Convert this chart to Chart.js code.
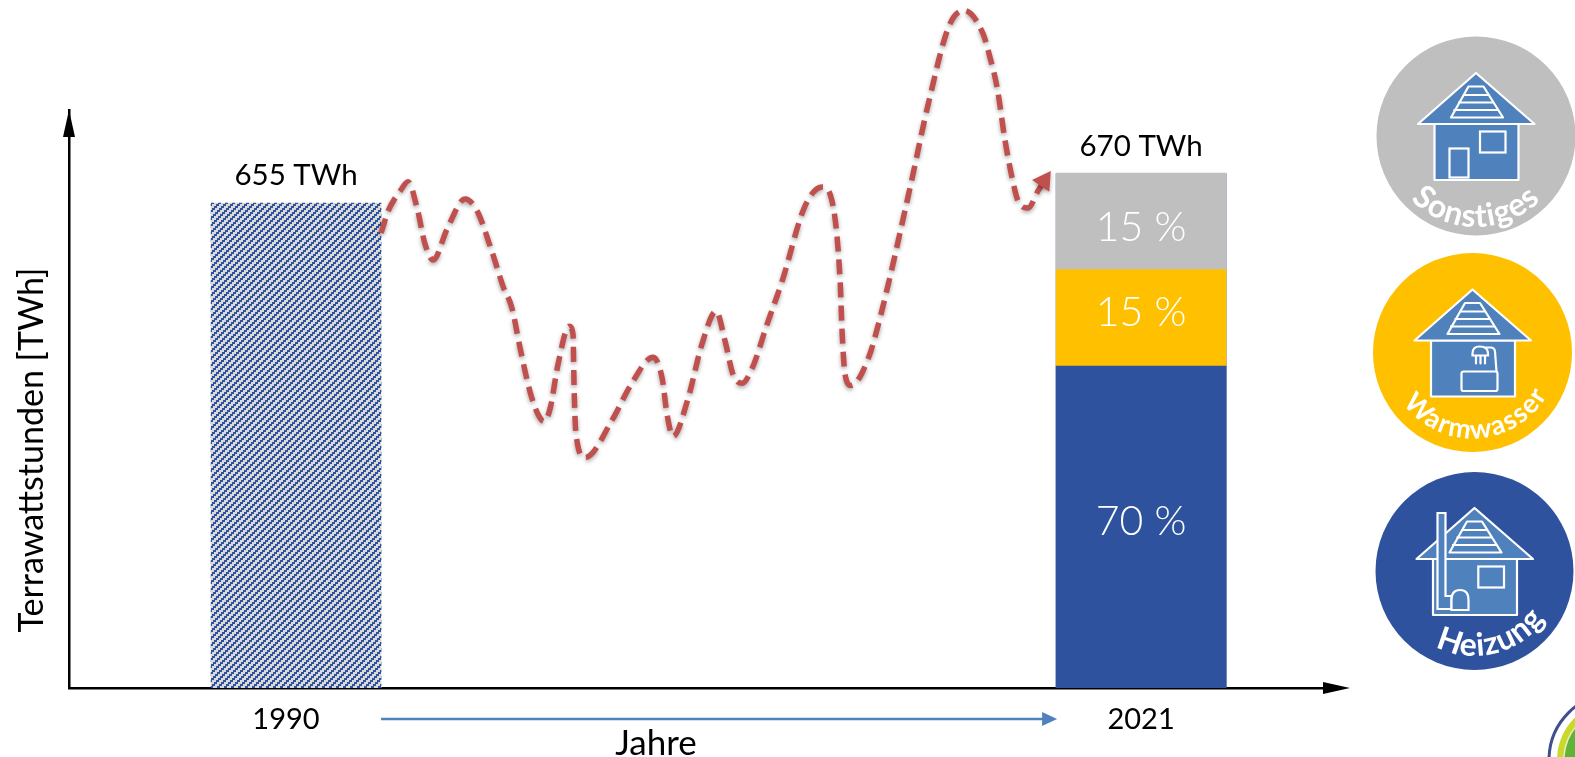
<!DOCTYPE html>
<html lang="de">
<head>
<meta charset="utf-8">
<title>Terrawattstunden 1990 und 2021</title>
<script src="https://cdn.jsdelivr.net/npm/chart.js@4"></script>
<style>
  html, body { margin: 0; padding: 0; background: #fff; overflow: hidden; }
  #stage { position: relative; width: 1575px; height: 757px; }
  #chart { position: absolute; left: 0; top: 0; }
  #badges { position: absolute; left: 0; top: 0; pointer-events: none; }
  #badges text { font-family: Lato, sans-serif; font-weight: 700; fill: #fff; }
</style>
</head>
<body>
<div id="stage">
  <canvas id="chart" width="1575" height="757"></canvas>
  <svg id="badges" width="1575" height="757" viewBox="0 0 1575 757">
    <defs>
      <g id="house" fill="#4f81bd" stroke="#fff" stroke-width="2.2" stroke-linejoin="round">
        <rect x="-41.5" y="-12" width="84" height="56"/>
        <path d="M0-63 58.5-12H-58Z"/>
        <path d="M-7.5-49.5H7.5L27-18.5H-25Z" fill="#4f81bd"/>
        <path d="M-13-41H13M-18-33.5H18M-22.5-26H22.5" fill="none"/>
      </g>
      <path id="arcS" d="M-91 0A91 91 0 0 0 91 0"/>
      <path id="arcW" d="M-86 0A86 86 0 0 0 86 0"/>
      <path id="arcH" d="M-85 0A85 85 0 0 0 85 0"/>
    </defs>

    <g transform="translate(1476 136)">
      <circle r="99.5" fill="#bfbfbf"/>
      <use href="#house"/>
      <g fill="#4f81bd" stroke="#fff" stroke-width="2.2">
        <rect x="4" y="-4.5" width="25.5" height="21"/>
        <rect x="-26.5" y="12.5" width="19" height="29"/>
      </g>
      <text font-size="32" letter-spacing="1" text-anchor="middle"><textPath href="#arcS" startOffset="50%">Sonstiges</textPath></text>
    </g>

    <g transform="translate(1472.5 352.5)">
      <circle r="99.5" fill="#ffc000"/>
      <use href="#house"/>
      <g fill="none" stroke="#fff" stroke-width="2.2" stroke-linecap="round">
        <rect x="-11" y="19" width="36" height="19.5" rx="2"/>
        <path d="M24 19 22.5-1Q22-5 18-5H13"/>
        <path d="M0 3V1Q0-6 7-6 15.5-6 15.5 1V3ZM3.5 4V11M8 4V11M12.5 4V11"/>
      </g>
      <text font-size="27" letter-spacing="1.6" text-anchor="middle"><textPath href="#arcW" startOffset="52%">Warmwasser</textPath></text>
    </g>

    <g transform="translate(1474.5 571)">
      <circle r="99" fill="#2f529e"/>
      <use href="#house"/>
      <g fill="#4f81bd" stroke="#fff" stroke-width="2.2">
        <rect x="3.8" y="-4.5" width="25.7" height="21"/>
        <path d="M-37-58H-29V25H-23V38H-37Z"/>
        <path d="M-23 39V29Q-23 19-14.5 19-6 19-6 29V39Z"/>
      </g>
      <text font-size="32" letter-spacing="1" text-anchor="middle"><textPath href="#arcH" startOffset="58%">Heizung</textPath></text>
    </g>

    <circle cx="1616" cy="760" r="67" fill="none" stroke="#3f4f8f" stroke-width="3"/>
    <circle cx="1616" cy="760" r="59" fill="#c8d92b"/>
    <circle cx="1616" cy="760" r="53" fill="#e8f0c0"/>
    <circle cx="1616" cy="760" r="51.5" fill="#5fb336"/>
  </svg>
</div>

<script>
// Total consumption per year, in terawatt hours
const years = [1990, 2021];
const totalsTWh = [655, 670];

// Where the year captions sit along the time axis
const yearTickPositions = [1989.63, 2021];

// Share of each use in 2021, in percent, stacked from the bottom up
const heatingShare = [null, 70];
const hotWaterShare = [null, 15];
const otherShare = [null, 15];
const shareLabels = ['70 %', '15 %', '15 %'];

// Course of consumption between the two bars
const trendYears = [1993.12, 1993.38, 1993.82, 1994.11, 1994.44, 1994.73, 1995.03, 1995.54, 1996.20, 1996.64,
  1997.19, 1997.59, 1997.92, 1998.22, 1998.58, 1998.88, 1999.10, 1999.32, 1999.61, 2000.02,
  2000.16, 2000.20, 2000.27, 2000.60, 2001.63, 2002.25, 2003.10, 2003.43, 2003.61, 2003.83,
  2004.38, 2004.89, 2005.41, 2005.74, 2006.03, 2006.36, 2006.73, 2007.28, 2007.83, 2008.67,
  2009.30, 2009.70, 2009.96, 2010.03, 2010.14, 2010.36, 2010.98, 2011.42, 2012.49, 2013.22,
  2013.96, 2014.51, 2015.20, 2015.46, 2015.72, 2016.01, 2016.27, 2016.49, 2016.85, 2017.22, 2017.44];
const trendTWh = [639.5, 650.9, 661.2, 665.9, 652.4, 633.8, 625.5, 641.5, 657.1, 650.9,
  629.7, 612.1, 600.7, 580.0, 557.7, 545.8, 542.2, 548.9, 571.7, 591.4,
  587.2, 559.3, 535.5, 523.6, 543.8, 560.3, 575.3, 564.5, 545.8, 534.5,
  554.1, 582.1, 599.1, 583.6, 566.5, 561.9, 569.6, 592.4, 614.6, 653.4,
  663.3, 653.4, 614.6, 588.8, 566.5, 560.8, 574.3, 595.5, 660.7, 707.8,
  746.6, 754.3, 742.4, 730.0, 714.5, 687.1, 667.9, 656.0, 652.4, 661.2, 666.4];

const FONT = 'Lato, sans-serif';
const BLUE = '#2f529e';

// Stair-stepped diagonal hatching for the 1990 bar
function hatch() {
  const period = 7;
  const size = period * 2;
  const tile = document.createElement('canvas');
  tile.width = tile.height = size;
  const g = tile.getContext('2d');
  g.fillStyle = '#d9d9d9';
  g.fillRect(0, 0, size, size);
  g.fillStyle = BLUE;
  for (let y = 0; y < size; y++) {
    for (let x = 0; x < size; x++) {
      if ((x + 2 * (y >> 1)) % period < 3) g.fillRect(x, y, 1, 1);
    }
  }
  return g.createPattern(tile, 'repeat');
}

function arrowHead(ctx, x, y, angle, len, half, color) {
  ctx.save();
  ctx.translate(x, y);
  ctx.rotate(angle);
  ctx.fillStyle = color;
  ctx.beginPath();
  ctx.moveTo(0, 0);
  ctx.lineTo(-len, -half);
  ctx.lineTo(-len, half);
  ctx.closePath();
  ctx.fill();
  ctx.restore();
}

function label(ctx, text, x, y, color, size, weight, rotate) {
  ctx.save();
  ctx.translate(x, y);
  if (rotate) ctx.rotate(rotate);
  ctx.font = weight + ' ' + size + 'px ' + FONT;
  ctx.fillStyle = color;
  ctx.textAlign = 'center';
  ctx.textBaseline = 'middle';
  ctx.fillText(text, 0, 0);
  ctx.restore();
}

// Soft shadow under the dashed trend line
const trendShadow = {
  id: 'trendShadow',
  beforeDatasetDraw(chart, args) {
    if (chart.data.datasets[args.index].type !== 'line') return;
    const ctx = chart.ctx;
    ctx.save();
    ctx.shadowColor = 'rgba(0,0,0,0.35)';
    ctx.shadowBlur = 4;
    ctx.shadowOffsetY = 2;
  },
  afterDatasetDraw(chart, args) {
    if (chart.data.datasets[args.index].type !== 'line') return;
    chart.ctx.restore();
  }
};

// Axis arrows, axis captions and the value labels on the bars
const annotations = {
  id: 'annotations',
  afterDraw(chart) {
    const { ctx, chartArea: area, scales: { x, y, share } } = chart;
    arrowHead(ctx, 1350, area.bottom, 0, 27, 6, '#000');
    arrowHead(ctx, area.left, 110, -Math.PI / 2, 27, 6, '#000');

    label(ctx, 'Terrawattstunden [TWh]', 32, 450, '#000', 34, 400, -Math.PI / 2);
    label(ctx, 'Jahre', 656, 744, '#000', 35, 400);

    years.forEach((year, i) => {
      label(ctx, totalsTWh[i] + ' TWh', x.getPixelForValue(year), y.getPixelForValue(totalsTWh[i]) - 27, '#000', 29.5, 400);
    });

    // Percent captions sit in the visible middle of their segments
    const nudges = [-5, -5, 6];
    let from = 0;
    [heatingShare[1], hotWaterShare[1], otherShare[1]].forEach((value, i) => {
      const low = Math.min(share.getPixelForValue(from), area.bottom);
      const high = share.getPixelForValue(from + value);
      label(ctx, shareLabels[i], x.getPixelForValue(years[1]), (low + high) / 2 + nudges[i], '#fff', 41, 300);
      from += value;
    });

    // Time arrow under the axis, running between the two bars
    const startX = x.getPixelForValue(years[0]) + 85;
    const endX = x.getPixelForValue(years[1]) - 84;
    ctx.save();
    ctx.strokeStyle = '#4f81bd';
    ctx.lineWidth = 2.5;
    ctx.beginPath();
    ctx.moveTo(startX, 719);
    ctx.lineTo(endX - 12, 719);
    ctx.stroke();
    ctx.restore();
    arrowHead(ctx, endX, 719, 0, 15, 7, '#4f81bd');
  }
};

new Chart(document.getElementById('chart'), {
  data: {
    labels: years,
    datasets: [
      {
        type: 'line',
        label: 'Verlauf',
        data: trendYears.map((year, i) => ({ x: year, y: trendTWh[i] })),
        yAxisID: 'y',
        borderColor: '#c0504d',
        borderWidth: 5.5,
        borderDash: [15, 8],
        cubicInterpolationMode: 'monotone',
        clip: false,
        order: 0,
        pointRadius: trendYears.map((_, i) => (i === trendYears.length - 1 ? 12 : 0)),
        pointStyle: 'triangle',
        pointRotation: 34,
        pointBackgroundColor: '#c0504d',
        pointBorderWidth: 0
      },
      {
        type: 'bar',
        label: 'Gesamt',
        data: years.map((year, i) => ({ x: year, y: totalsTWh[i] })),
        yAxisID: 'y',
        backgroundColor: [hatch(), BLUE],
        barThickness: 170,
        grouped: false,
        order: 3
      },
      {
        type: 'bar',
        label: 'Heizung',
        data: years.map((year, i) => ({ x: year, y: heatingShare[i] })),
        yAxisID: 'share',
        stack: 'anteile',
        backgroundColor: BLUE,
        barThickness: 170,
        grouped: false,
        order: 2
      },
      {
        type: 'bar',
        label: 'Warmwasser',
        data: years.map((year, i) => ({ x: year, y: hotWaterShare[i] })),
        yAxisID: 'share',
        stack: 'anteile',
        backgroundColor: '#ffc000',
        barThickness: 170,
        grouped: false,
        order: 2
      },
      {
        type: 'bar',
        label: 'Sonstiges',
        data: years.map((year, i) => ({ x: year, y: otherShare[i] })),
        yAxisID: 'share',
        stack: 'anteile',
        backgroundColor: '#bfbfbf',
        barThickness: 170,
        grouped: false,
        order: 2
      }
    ]
  },
  plugins: [trendShadow, annotations],
  options: {
    responsive: false,
    animation: false,
    events: [],
    layout: { padding: { top: 110, right: 245, left: 0, bottom: 0 } },
    plugins: { legend: { display: false }, tooltip: { enabled: false } },
    scales: {
      x: {
        type: 'linear',
        min: 1981.67,
        max: 2027.93,
        offset: false,
        grid: { display: false, drawTicks: false },
        border: { color: '#000', width: 2.5 },
        afterFit(scale) { scale.height = 69; },
        afterBuildTicks(scale) { scale.ticks = yearTickPositions.map(value => ({ value })); },
        ticks: {
          padding: 14,
          maxRotation: 0,
          autoSkip: false,
          color: '#000',
          font: { family: FONT, size: 29, weight: '400' },
          callback: (value, index) => String(years[index])
        }
      },
      y: {
        min: 404.6,
        max: 703,
        grid: { display: false, drawTicks: false },
        border: { color: '#000', width: 2.5 },
        ticks: { display: false },
        afterFit(scale) { scale.width = 69; }
      },
      share: {
        display: false,
        stacked: true,
        min: 20,
        max: 109.8
      }
    }
  }
});
</script>
</body>
</html>
